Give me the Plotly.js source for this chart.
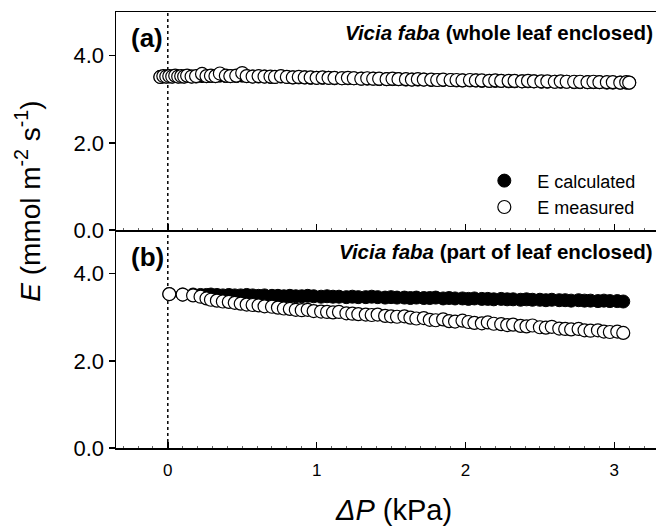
<!DOCTYPE html>
<html>
<head>
<meta charset="utf-8">
<script src="https://cdn.plot.ly/plotly-3.0.1.min.js"></script>
<style>html,body{margin:0;padding:0;background:#fff;}</style>
</head>
<body>
<div id="chart" style="width:656px;height:530px;"></div>
<script>
// ---- Data ----
// Panel (a): whole leaf enclosed
const xA = [-0.05,-0.03,-0.01,0.01,0.03,0.05,0.07,0.09,0.11,0.13,0.16,0.19,0.23,0.26,0.29,0.32,0.35,0.39,0.42,0.46,0.50,0.53,0.57,0.61,0.65,0.69,0.72,0.76,0.80,0.84,0.88,0.92,0.96,1.00,1.04,1.08,1.12,1.17,1.21,1.25,1.30,1.34,1.38,1.42,1.47,1.51,1.55,1.60,1.64,1.68,1.72,1.77,1.81,1.85,1.90,1.94,1.98,2.03,2.07,2.11,2.16,2.20,2.24,2.29,2.33,2.38,2.42,2.46,2.51,2.55,2.60,2.64,2.68,2.73,2.77,2.82,2.86,2.90,2.95,2.99,3.04,3.08,3.10];
const measA = [3.51,3.53,3.52,3.53,3.52,3.54,3.52,3.53,3.52,3.54,3.52,3.53,3.58,3.53,3.54,3.53,3.59,3.54,3.53,3.54,3.60,3.53,3.52,3.53,3.52,3.52,3.51,3.53,3.51,3.50,3.51,3.50,3.50,3.49,3.50,3.49,3.49,3.48,3.49,3.48,3.47,3.48,3.47,3.47,3.46,3.47,3.46,3.46,3.45,3.46,3.45,3.45,3.44,3.45,3.44,3.44,3.43,3.44,3.43,3.43,3.42,3.43,3.42,3.42,3.42,3.41,3.42,3.41,3.41,3.41,3.40,3.41,3.40,3.40,3.40,3.39,3.40,3.39,3.39,3.39,3.38,3.39,3.38];
const calcA = [3.51,3.52,3.52,3.52,3.52,3.53,3.52,3.52,3.52,3.53,3.52,3.52,3.53,3.53,3.53,3.53,3.54,3.53,3.53,3.53,3.54,3.53,3.52,3.52,3.52,3.51,3.51,3.52,3.51,3.50,3.50,3.50,3.49,3.49,3.49,3.49,3.48,3.48,3.48,3.48,3.47,3.47,3.47,3.46,3.46,3.46,3.46,3.45,3.45,3.45,3.45,3.44,3.44,3.44,3.44,3.43,3.43,3.43,3.43,3.42,3.42,3.42,3.42,3.41,3.41,3.41,3.41,3.41,3.40,3.40,3.40,3.40,3.40,3.39,3.39,3.39,3.39,3.39,3.38,3.38,3.38,3.38,3.38];

// Panel (b): part of leaf enclosed
const xB = [0.01,0.10,0.17,0.22,0.26,0.29,0.33,0.37,0.41,0.45,0.49,0.53,0.57,0.61,0.65,0.70,0.74,0.78,0.82,0.86,0.90,0.94,0.98,1.03,1.07,1.11,1.15,1.20,1.24,1.28,1.33,1.37,1.41,1.46,1.50,1.54,1.59,1.63,1.67,1.72,1.76,1.80,1.85,1.89,1.93,1.98,2.02,2.06,2.11,2.15,2.19,2.24,2.28,2.32,2.37,2.41,2.45,2.50,2.54,2.58,2.63,2.67,2.71,2.76,2.80,2.84,2.89,2.93,2.97,3.02,3.06];
const measB = [3.53,3.52,3.50,3.47,3.43,3.40,3.38,3.36,3.35,3.33,3.31,3.29,3.28,3.27,3.25,3.24,3.22,3.20,3.19,3.17,3.16,3.17,3.14,3.13,3.12,3.11,3.12,3.09,3.08,3.07,3.06,3.05,3.06,3.03,3.02,3.01,3.02,2.99,2.97,2.98,2.94,2.93,2.95,2.91,2.90,2.92,2.89,2.87,2.86,2.88,2.85,2.84,2.82,2.83,2.80,2.79,2.81,2.77,2.76,2.78,2.74,2.73,2.72,2.73,2.70,2.69,2.70,2.67,2.66,2.67,2.64];
const calcB = [3.53,3.52,3.52,3.51,3.51,3.52,3.51,3.50,3.51,3.50,3.50,3.51,3.50,3.49,3.50,3.49,3.49,3.48,3.49,3.48,3.48,3.49,3.48,3.47,3.48,3.47,3.47,3.46,3.47,3.46,3.46,3.47,3.46,3.45,3.46,3.45,3.45,3.44,3.45,3.44,3.44,3.45,3.43,3.44,3.43,3.43,3.42,3.43,3.42,3.42,3.41,3.42,3.41,3.41,3.40,3.41,3.40,3.40,3.39,3.40,3.39,3.39,3.38,3.39,3.38,3.38,3.37,3.38,3.37,3.37,3.36];

const yTickVals = [0, 2, 4];
const yTickText = ['0.0', '2.0', '4.0'];
const xTickVals = [0, 1, 2, 3];
const xTickText = ['0', '1', '2', '3'];
const refX = 0;

const FONT = 'Arial, "Liberation Sans", sans-serif';
const mSize = 13;
const filled = {symbol:'circle', size:mSize, color:'black', line:{color:'black', width:1}};
const open = {symbol:'circle', size:mSize, color:'white', line:{color:'black', width:1.2}};

const traces = [
  {x:xA, y:calcA, xaxis:'x', yaxis:'y', mode:'markers', type:'scatter', name:'E calculated', marker:filled, legendgroup:'c', showlegend:true},
  {x:xA, y:measA, xaxis:'x', yaxis:'y', mode:'markers', type:'scatter', name:'E measured', marker:open, legendgroup:'m', showlegend:true},
  {x:xB, y:calcB, xaxis:'x2', yaxis:'y2', mode:'markers', type:'scatter', name:'E calculated', marker:filled, legendgroup:'c', showlegend:false},
  {x:xB, y:measB, xaxis:'x2', yaxis:'y2', mode:'markers', type:'scatter', name:'E measured', marker:open, legendgroup:'m', showlegend:false}
];

const xRange = [-0.348, 3.28];
const yRange = [0, 5];

const xBase = {
  range:xRange, showline:true, linecolor:'black', linewidth:1.5,
  ticks:'inside', ticklen:6, tickwidth:1.5, tickcolor:'black',
  tickvals:xTickVals, ticktext:xTickText,
  showgrid:false, zeroline:false,
  minor:{ticks:'inside', ticklen:2, dtick:0.1, tickcolor:'#666', tickwidth:1, showgrid:false},
  tickfont:{family:FONT, size:17, color:'black'}
};
const yBase = {
  range:yRange, showline:true, linecolor:'black', linewidth:1.5,
  ticks:'outside', ticklen:6, tickwidth:1.5, tickcolor:'black',
  tickvals:yTickVals, ticktext:yTickText,
  showgrid:false, zeroline:false,
  tickfont:{family:FONT, size:22, color:'black'}
};

const layout = {
  width:656, height:530,
  margin:{l:116, r:0, t:12, b:82},
  paper_bgcolor:'white', plot_bgcolor:'white',
  font:{family:FONT, color:'black'},
  showlegend:true,
  legend:{x:0.658, y:0.655, xanchor:'left', yanchor:'top', itemwidth:56, tracegroupgap:0,
          traceorder:'grouped', bgcolor:'rgba(0,0,0,0)', borderwidth:0,
          font:{family:FONT, size:18, color:'black'}},
  xaxis:Object.assign({}, xBase, {domain:[0,1], anchor:'y', mirror:true, showticklabels:false}),
  yaxis:Object.assign({}, yBase, {domain:[0.5,1], anchor:'x'}),
  xaxis2:Object.assign({}, xBase, {domain:[0,1], anchor:'y2', showticklabels:true, ticklabelstandoff:6}),
  yaxis2:Object.assign({}, yBase, {domain:[0,0.5], anchor:'x2'}),
  shapes:[
    {type:'line', xref:'x', yref:'paper', x0:refX, x1:refX, y0:0, y1:1, layer:'below',
     line:{color:'black', width:1.5, dash:'dot'}}
  ],
  annotations:[
    {text:'<b>(a)</b>', xref:'paper', yref:'paper', x:0.058, y:0.94, xanchor:'center', yanchor:'middle', showarrow:false, font:{family:FONT, size:26}},
    {text:'<b>(b)</b>', xref:'paper', yref:'paper', x:0.058, y:0.437, xanchor:'center', yanchor:'middle', showarrow:false, font:{family:FONT, size:26}},
    {text:'<b><i>Vicia faba</i> (whole leaf enclosed)</b>', xref:'paper', yref:'paper', x:0.999, y:0.954, xanchor:'right', yanchor:'middle', showarrow:false, font:{family:FONT, size:20.5}},
    {text:'<b><i>Vicia faba</i> (part of leaf enclosed)</b>', xref:'paper', yref:'paper', x:0.999, y:0.45, xanchor:'right', yanchor:'middle', showarrow:false, font:{family:FONT, size:20.5}},
    {text:'<i>E</i> (mmol m<sup>-2</sup> s<sup>-1</sup>)', xref:'paper', yref:'paper', x:-0.162, y:0.566, xanchor:'center', yanchor:'middle', textangle:-90, showarrow:false, font:{family:FONT, size:28}},
    {text:'<i>ΔP</i> (kPa)', xref:'paper', yref:'paper', x:0.513, y:-0.142, xanchor:'center', yanchor:'middle', showarrow:false, font:{family:FONT, size:29}}
  ]
};

Plotly.newPlot('chart', traces, layout, {displayModeBar:false, staticPlot:true});
</script>
</body>
</html>
